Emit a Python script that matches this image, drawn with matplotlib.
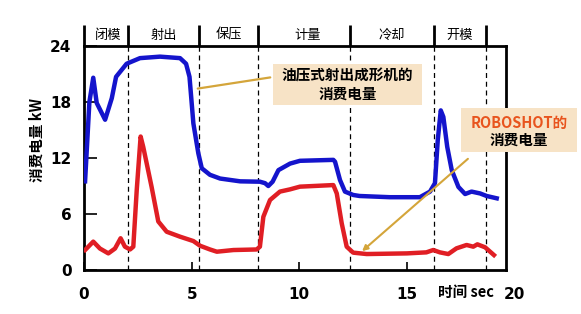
import matplotlib
matplotlib.use("Agg")
import matplotlib.pyplot as plt
from matplotlib.patches import Rectangle

plt.rcParams['font.family'] = ['Noto Sans CJK SC', 'DejaVu Sans']

# ---- data ----
blue_x = [0.05, 0.25, 0.43, 0.59, 0.98, 1.29, 1.49, 1.98, 2.6, 3.53, 4.46, 4.74, 4.9, 5.08,
          5.31, 5.47, 5.85, 6.32, 7.25, 8.17, 8.41, 8.56, 8.76, 9.03, 9.57, 10.03, 11.58,
          11.66, 11.89, 12.12, 12.5, 12.8, 14.2, 15.6, 16.07, 16.3, 16.43, 16.57, 16.69,
          16.87, 17.08, 17.39, 17.7, 18.0, 18.4, 18.7, 19.17]
blue_y = [9.5, 18.0, 20.6, 17.9, 16.1, 18.4, 20.7, 22.1, 22.7, 22.86, 22.7, 22.1, 20.7, 15.7,
          12.5, 10.9, 10.2, 9.8, 9.5, 9.46, 9.3, 9.0, 9.46, 10.7, 11.4, 11.7, 11.8,
          11.6, 9.64, 8.4, 8.04, 7.93, 7.8, 7.8, 8.4, 9.3, 13.9, 17.1, 16.4,
          13.2, 10.7, 8.9, 8.14, 8.4, 8.2, 7.93, 7.68]

red_x = [0.05, 0.43, 0.74, 1.13, 1.44, 1.7, 1.9, 2.14, 2.29, 2.45, 2.63, 2.75, 3.14, 3.45,
         3.84, 4.46, 5.08, 5.39, 5.85, 6.17, 6.94, 8.02, 8.17, 8.33, 8.64, 9.1, 9.57, 10.03,
         11.58, 11.74, 11.97, 12.2, 12.5, 13.13, 15.0, 15.9, 16.22, 16.53, 16.92, 17.3,
         17.77, 18.08, 18.27, 18.63, 19.04]
red_y = [2.14, 3.04, 2.3, 1.78, 2.3, 3.4, 2.5, 2.2, 2.5, 8.6, 14.3, 13.2, 8.9, 5.2,
         4.1, 3.57, 3.1, 2.6, 2.2, 1.96, 2.14, 2.2, 2.5, 5.7, 7.5, 8.4, 8.64, 8.93,
         9.1, 8.2, 5.0, 2.5, 1.86, 1.71, 1.78, 1.89, 2.14, 1.89, 1.71, 2.32,
         2.68, 2.5, 2.75, 2.43, 1.6]

phase_bounds = [0, 2.03, 5.36, 8.1, 12.34, 16.25, 18.67]
phase_labels = ['闭模', '射出', '保压', '计量', '冷却', '开模']
phase_label_x = [1.1, 3.7, 6.73, 10.4, 14.3, 17.46]

x_ticks = [0, 5, 10, 15]
y_ticks = [0, 6, 12, 18, 24]

W, H = 581, 314
fig = plt.figure(figsize=(W / 100, H / 100), dpi=100)
L, R, B, T = 84, 506, 270, 46
ax = fig.add_axes([L / W, 1 - B / H, (R - L) / W, (B - T) / H])

def fx(px):
    return px / W

def fy(py):
    return 1 - py / H

ax.set_xlim(0, 19.6)
ax.set_ylim(0, 24)

blue = '#1414cc'
red = '#e01e24'
ax.plot(blue_x, blue_y, color=blue, lw=3.2, solid_joinstyle='round', zorder=3)
ax.plot(red_x, red_y, color=red, lw=3.2, solid_joinstyle='round', zorder=3)

for xb in phase_bounds[1:]:
    ax.axvline(xb, color='black', lw=0.9, ls=(0, (4, 3)), zorder=1)

# header
hdr_top = 24 + 21 / 9.333
for xb in phase_bounds:
    ax.plot([xb, xb], [24, hdr_top], color='black', lw=2.0, clip_on=False,
            solid_capstyle='butt')
for lab, xl in zip(phase_labels, phase_label_x):
    ax.text(xl, 25.15, lab, ha='center', va='center', fontsize=9.5, clip_on=False)

for s in ax.spines.values():
    s.set_linewidth(2.0)

ax.set_xticks(x_ticks)
ax.set_yticks(y_ticks)
ax.tick_params(axis='both', direction='in', width=1.2, labelsize=11)
ax.tick_params(axis='y', length=9, pad=9)
ax.tick_params(axis='x', length=6, pad=12)
for t in ax.get_xticklabels() + ax.get_yticklabels():
    t.set_fontweight('bold')
    t.set_family(['DejaVu Sans'])
ax.text(20, 0, '20', transform=ax.transData, ha='center', va='top',
        fontsize=11, fontweight='bold', family=['DejaVu Sans'], clip_on=False)
lab0 = ax.get_xticklabels()[0]
fig.canvas.draw()
ylab_pix = lab0.get_window_extent().y1
inv = ax.transData.inverted()
ytop = inv.transform((0, ylab_pix))[1]
ax.texts[-1].set_y(ytop)

ax.set_ylabel('消费电量 kW', fontsize=10.5, fontweight='bold')
ax.yaxis.set_label_coords((45 - L) / (R - L), (B - 140) / (B - T))

fig.text(fx(466), fy(292), '时间 sec', ha='center', va='center', fontsize=10.5,
         fontweight='bold')

# annotation boxes
box_col = '#f7e3c6'
fig.patches.append(Rectangle((fx(273), fy(105)), fx(422) - fx(273), fy(64) - fy(105),
                             transform=fig.transFigure, facecolor=box_col, edgecolor='none',
                             zorder=5))
fig.text(fx(347.5), fy(76), '油压式射出成形机的', ha='center', va='center',
         fontsize=10.5, fontweight='bold', zorder=6)
fig.text(fx(347.5), fy(94), '消费电量', ha='center', va='center',
         fontsize=10.5, fontweight='bold', zorder=6)

fig.patches.append(Rectangle((fx(461), fy(152)), fx(577) - fx(461), fy(108) - fy(152),
                             transform=fig.transFigure, facecolor=box_col, edgecolor='none',
                             zorder=5))
fig.text(fx(519), fy(123), 'ROBOSHOT的', ha='center', va='center',
         fontsize=10.5, fontweight='bold', color='#e8541e', zorder=6)
fig.text(fx(519), fy(140), '消费电量', ha='center', va='center',
         fontsize=10.5, fontweight='bold', zorder=6)

gold = '#d4a53a'
ax.annotate('', xy=((195 - L) / (R - L), (B - 89) / (B - T)), xycoords='axes fraction',
            xytext=((273 - L) / (R - L), (B - 77) / (B - T)), textcoords='axes fraction',
            arrowprops=dict(arrowstyle='-', color=gold, lw=1.6), annotation_clip=False)
ax.annotate('', xy=((360 - L) / (R - L), (B - 253) / (B - T)), xycoords='axes fraction',
            xytext=((470 - L) / (R - L), (B - 157) / (B - T)), textcoords='axes fraction',
            arrowprops=dict(arrowstyle='-|>', color=gold, lw=1.5, mutation_scale=8),
            annotation_clip=False, zorder=4)

fig.savefig('out.png', dpi=100)
